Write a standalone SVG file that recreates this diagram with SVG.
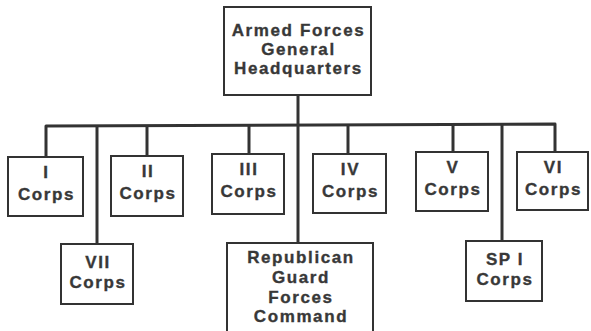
<svg xmlns="http://www.w3.org/2000/svg" width="591" height="331" viewBox="0 0 591 331">
  <style>
    .box { fill: #ffffff; stroke: #333333; stroke-width: 2; }
    .lbl { font-family: "Liberation Sans", Arial, Helvetica, sans-serif; font-weight: bold; font-size: 17px; letter-spacing: 1.6px; fill: #383838; stroke: #383838; stroke-width: 0.35; text-anchor: middle; }
    .conn { fill: none; stroke: #333333; stroke-width: 3; stroke-linejoin: round; stroke-linecap: butt; }
  </style>
  <rect width="591" height="331" fill="#ffffff"/>
  <g id="connectors">
    <path class="conn" d="M46,157 L46,126 L555,124 L555,152"/>
    <path class="conn" d="M298,95 L298,243"/>
    <path class="conn" d="M147,126 L147,156"/>
    <path class="conn" d="M249,125 L249,154"/>
    <path class="conn" d="M348,125 L348,154"/>
    <path class="conn" d="M453,124 L453,152"/>
    <path class="conn" d="M97,126 L97,244"/>
    <path class="conn" d="M502,124 L502,241"/>
  </g>
  <g id="hq">
    <rect class="box" x="224" y="7" width="147" height="88"/>
    <text class="lbl" x="298.5" y="36">Armed Forces</text>
    <text class="lbl" x="298.5" y="55">General</text>
    <text class="lbl" x="298.5" y="74">Headquarters</text>
  </g>
  <g id="corps1">
    <rect class="box" x="8" y="157" width="75" height="59"/>
    <text class="lbl" x="46.5" y="178">I</text>
    <text class="lbl" x="46.5" y="200">Corps</text>
  </g>
  <g id="corps2">
    <rect class="box" x="111" y="156" width="72" height="60"/>
    <text class="lbl" x="148" y="177">II</text>
    <text class="lbl" x="148" y="199">Corps</text>
  </g>
  <g id="corps3">
    <rect class="box" x="212" y="154" width="72" height="60"/>
    <text class="lbl" x="249" y="175">III</text>
    <text class="lbl" x="249" y="197">Corps</text>
  </g>
  <g id="corps4">
    <rect class="box" x="313" y="154" width="73" height="59"/>
    <text class="lbl" x="350.5" y="175">IV</text>
    <text class="lbl" x="350.5" y="197">Corps</text>
  </g>
  <g id="corps5">
    <rect class="box" x="416" y="152" width="72" height="59"/>
    <text class="lbl" x="453" y="173">V</text>
    <text class="lbl" x="453" y="195">Corps</text>
  </g>
  <g id="corps6">
    <rect class="box" x="517" y="152" width="71" height="58"/>
    <text class="lbl" x="553.5" y="173">VI</text>
    <text class="lbl" x="553.5" y="195">Corps</text>
  </g>
  <g id="corps7">
    <rect class="box" x="61" y="244" width="72" height="60"/>
    <text class="lbl" x="98" y="268">VII</text>
    <text class="lbl" x="98" y="288">Corps</text>
  </g>
  <g id="republican-guard">
    <rect class="box" x="227" y="243" width="146" height="90"/>
    <text class="lbl" x="301" y="263">Republican</text>
    <text class="lbl" x="301" y="283">Guard</text>
    <text class="lbl" x="301" y="303">Forces</text>
    <text class="lbl" x="301" y="322">Command</text>
  </g>
  <g id="sp1-corps">
    <rect class="box" x="466" y="241" width="76" height="60"/>
    <text class="lbl" x="505" y="265">SP I</text>
    <text class="lbl" x="505" y="285">Corps</text>
  </g>
</svg>
